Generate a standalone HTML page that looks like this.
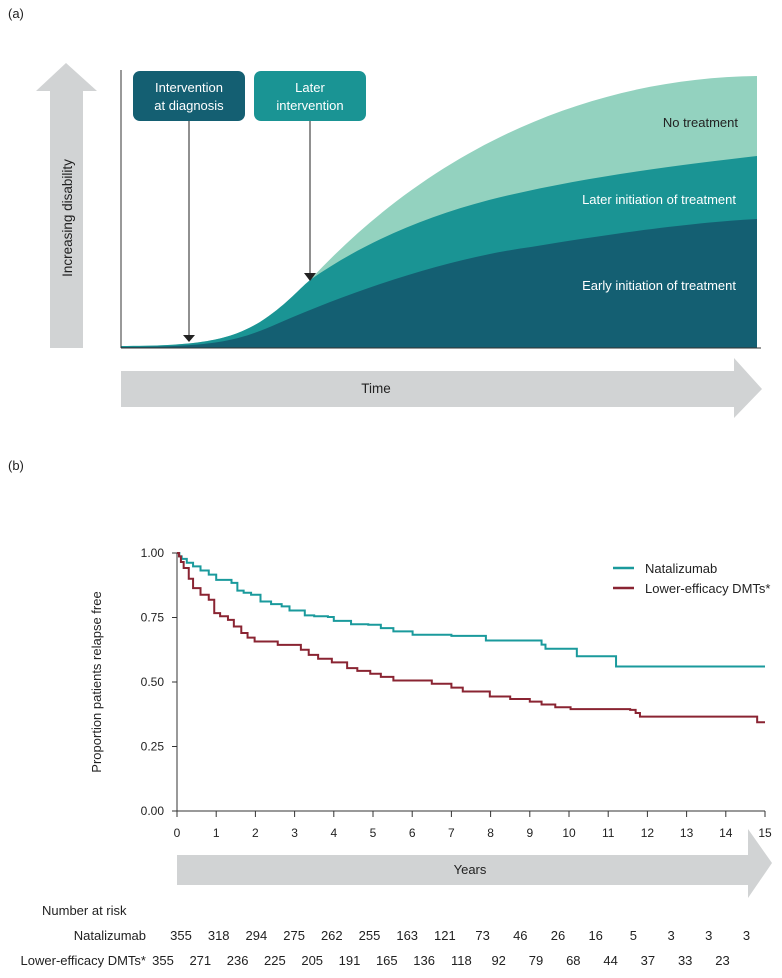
<!DOCTYPE html>
<html><head><meta charset="utf-8"><style>
body{margin:0;background:#fff;font-family:"Liberation Sans",sans-serif;}
svg text{font-family:"Liberation Sans",sans-serif;}
</style></head><body>
<svg width="782" height="973" viewBox="0 0 782 973" xmlns="http://www.w3.org/2000/svg">
<!-- Panel (a) -->
<text x="8" y="18" font-size="13" fill="#222">(a)</text>
<polygon points="36,91 66,63 97,91 83,91 83,348 50,348 50,91" fill="#d1d3d4"/>
<text transform="translate(72,218) rotate(-90)" text-anchor="middle" font-size="13.5" fill="#222">Increasing disability</text>
<path d="M121,346 C200,346 230,340 260,322 C285,306 298,290 310,280 C440,140 600,78 757,76 L757,348 L121,348 Z" fill="#93d2bf"/>
<path d="M121,346 C200,346 230,340 260,322 C285,306 298,290 310,280 C360,245 420,218 489,200 C580,177 680,165 757,156 L757,348 L121,348 Z" fill="#1a9494"/>
<path d="M121,347 C220,347 240,340 279,323 C360,288 450,258 531,247 C620,232 700,222 757,219 L757,348 L121,348 Z" fill="#145f72"/>
<line x1="121" y1="70" x2="121" y2="348" stroke="#333" stroke-width="1"/>
<line x1="121" y1="348" x2="761" y2="348" stroke="#333" stroke-width="1"/>
<text x="738" y="127" text-anchor="end" font-size="13" fill="#222">No treatment</text>
<text x="736" y="204" text-anchor="end" font-size="13" fill="#fff">Later initiation of treatment</text>
<text x="736" y="290" text-anchor="end" font-size="13" fill="#fff">Early initiation of treatment</text>
<rect x="133" y="71" width="112" height="50" rx="7" fill="#145f72"/>
<text x="189" y="92" text-anchor="middle" font-size="13" fill="#fff"><tspan x="189">Intervention</tspan><tspan x="189" dy="18">at diagnosis</tspan></text>
<rect x="254" y="71" width="112" height="50" rx="7" fill="#1a9494"/>
<text x="310" y="92" text-anchor="middle" font-size="13" fill="#fff"><tspan x="310">Later</tspan><tspan x="310" dy="18">intervention</tspan></text>
<line x1="189" y1="121" x2="189" y2="336" stroke="#222" stroke-width="1"/>
<polygon points="183,335 195,335 189,342" fill="#222"/>
<line x1="310" y1="121" x2="310" y2="274" stroke="#222" stroke-width="1"/>
<polygon points="304,273 316,273 310,281" fill="#222"/>
<polygon points="121,371 734,371 734,358 762,389 734,418 734,407 121,407" fill="#d1d3d4"/>
<text x="376" y="393" text-anchor="middle" font-size="13.5" fill="#222">Time</text>

<!-- Panel (b) -->
<text x="8" y="470" font-size="13" fill="#222">(b)</text>
<polygon points="177,855 748,855 748,829 772,863 748,898 748,885 177,885" fill="#d1d3d4"/>
<text x="470" y="874" text-anchor="middle" font-size="13" fill="#222">Years</text>
<text transform="translate(101,682) rotate(-90)" text-anchor="middle" font-size="13" fill="#222">Proportion patients relapse free</text>
<g id="chart"></g>
<line x1="613" y1="568" x2="634" y2="568" stroke="#1a9a9c" stroke-width="2.5"/>
<text x="645" y="573" font-size="13" fill="#222">Natalizumab</text>
<line x1="613" y1="588" x2="634" y2="588" stroke="#8a2432" stroke-width="2.5"/>
<text x="645" y="593" font-size="13" fill="#222">Lower-efficacy DMTs*</text>
<text x="42" y="915" font-size="13" fill="#222">Number at risk</text>
<text x="146" y="940" text-anchor="end" font-size="13" fill="#222">Natalizumab</text>
<text x="146" y="965" text-anchor="end" font-size="13" fill="#222">Lower-efficacy DMTs*</text>
<g id="risk"></g>
</svg>
<script>
const yearTicks = [0,1,2,3,4,5,6,7,8,9,10,11,12,13,14,15];
const yTickLabels = ["0.00","0.25","0.50","0.75","1.00"];
const yTickValues = [0,0.25,0.5,0.75,1];
const natYears = [0,0.06,0.12,0.25,0.41,0.6,0.81,1.0,1.39,1.54,1.7,1.89,2.13,2.4,2.67,2.87,3.26,3.5,3.85,4.0,4.44,4.88,5.2,5.52,6.01,7.0,7.88,9.3,9.4,10.2,11.2];
const natValues = [1.0,0.987,0.977,0.962,0.948,0.932,0.916,0.896,0.884,0.854,0.846,0.838,0.812,0.802,0.793,0.777,0.758,0.755,0.752,0.737,0.724,0.722,0.709,0.696,0.683,0.679,0.661,0.645,0.629,0.60,0.56];
const lowYears = [0,0.05,0.1,0.17,0.3,0.41,0.6,0.81,0.95,1.1,1.3,1.45,1.64,1.8,1.98,2.57,3.16,3.36,3.6,3.95,4.34,4.6,4.93,5.2,5.52,6.5,7.0,7.29,7.98,8.5,9.0,9.3,9.65,10.04,11.56,11.7,11.81,14.8];
const lowValues = [1.0,0.987,0.965,0.942,0.9,0.864,0.838,0.819,0.767,0.755,0.741,0.715,0.69,0.672,0.657,0.644,0.625,0.605,0.59,0.576,0.554,0.543,0.532,0.52,0.506,0.493,0.478,0.463,0.444,0.434,0.424,0.413,0.402,0.395,0.392,0.38,0.366,0.344];
const natRisk = [355,318,294,275,262,255,163,121,73,46,26,16,5,3,3,3];
const lowRisk = [355,271,236,225,205,191,165,136,118,92,79,68,44,37,33,23];
const NS="http://www.w3.org/2000/svg";
const X0=177,X1=765,Y0=811,Y1=553,XMAX=15;
const xs=v=>X0+(X1-X0)*v/XMAX;
const ys=v=>Y0-(Y0-Y1)*v;
const g=document.getElementById('chart');
function mk(tag,attrs,parent){const e=document.createElementNS(NS,tag);for(const k in attrs)e.setAttribute(k,attrs[k]);parent.appendChild(e);return e;}
let ax=mk('line',{x1:X0,y1:Y1,x2:X0,y2:Y0,stroke:'#333','stroke-width':1},g);


let bx=mk('line',{x1:X0-5,y1:Y0,x2:X1,y2:Y0,stroke:'#333','stroke-width':1},g);


yTickValues.forEach((v,i)=>{
  const t=mk('line',{x1:X0-5,y1:ys(v),x2:X0,y2:ys(v),stroke:'#333'},g);
  
  
  const l=mk('text',{x:X0-13,y:ys(v)+4,'text-anchor':'end','font-size':12,fill:'#222'},g);
  l.textContent=yTickLabels[i];
  
  
});
yearTicks.forEach(v=>{
  const t=mk('line',{x1:xs(v),y1:Y0,x2:xs(v),y2:Y0+6,stroke:'#333'},g);
  
  
  const l=mk('text',{x:xs(v),y:Y0+26,'text-anchor':'middle','font-size':12,fill:'#222'},g);
  l.textContent=String(v);
  
  
});
function stepPath(xsArr,vals,end){
  let d='M'+xs(xsArr[0])+','+ys(vals[0]);
  for(let i=1;i<xsArr.length;i++){d+=' H'+xs(xsArr[i])+' V'+ys(vals[i]);}
  d+=' H'+xs(end);return d;
}
const p1=mk('path',{d:stepPath(natYears,natValues,15),fill:'none',stroke:'#1a9a9c','stroke-width':2},g);


const p2=mk('path',{d:stepPath(lowYears,lowValues,15),fill:'none',stroke:'#8a2432','stroke-width':2},g);


const r=document.getElementById('risk');
natRisk.forEach((n,i)=>{
  const t=mk('text',{x:181+i*37.7,y:940,'text-anchor':'middle','font-size':13,fill:'#222'},r);
  t.textContent=n;
  
  
});
lowRisk.forEach((n,i)=>{
  const t=mk('text',{x:163+i*37.3,y:965,'text-anchor':'middle','font-size':13,fill:'#222'},r);
  t.textContent=n;
  
  
});
</script>
</body></html>
